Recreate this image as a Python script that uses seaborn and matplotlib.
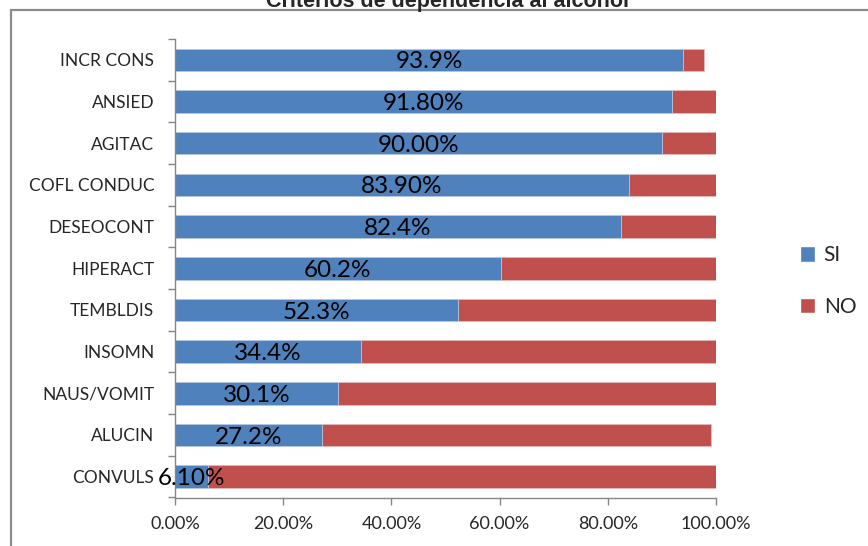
import matplotlib
matplotlib.use("Agg")
import matplotlib.pyplot as plt
from matplotlib.patches import Rectangle, Patch
import seaborn as sns
import pandas as pd

# Alcohol dependence criteria: share answering SI / NO (percent)
categories = ["INCR CONS", "ANSIED", "AGITAC", "COFL CONDUC", "DESEOCONT",
              "HIPERACT", "TEMBLDIS", "INSOMN", "NAUS/VOMIT", "ALUCIN", "CONVULS"]
si = [93.9, 91.8, 90.0, 83.9, 82.4, 60.2, 52.3, 34.4, 30.1, 27.2, 6.1]
no = [3.9, 8.2, 10.0, 16.1, 17.6, 39.8, 47.7, 65.6, 69.9, 71.9, 93.9]
label_decimals = [1, 2, 2, 2, 1, 1, 1, 1, 1, 1, 2]
x_ticks = [0, 20, 40, 60, 80, 100]

BLUE = "#4F81BD"
RED = "#C0504D"

sns.set_theme(style="white")
plt.rcParams["font.family"] = ["Lato", "DejaVu Sans"]

df = pd.DataFrame({"criterio": categories, "si": si, "no": no})
df["total"] = df["si"] + df["no"]

W, H = 868, 546
fig = plt.figure(figsize=(W / 100, H / 100), dpi=100)
ax = fig.add_axes([175 / W, 1 - 497.5 / H, (716 - 175) / W, (497.5 - 39) / H])

# stacked horizontal bars: total (NO on top of SI) then SI over it
sns.barplot(data=df, y="criterio", x="total", color=RED, saturation=1,
            width=0.54, orient="h", ax=ax, edgecolor="#e8b9b8", linewidth=0.6)
sns.barplot(data=df, y="criterio", x="si", color=BLUE, saturation=1,
            width=0.54, orient="h", ax=ax, edgecolor="#b9cde6", linewidth=0.6)

for i, (v, d) in enumerate(zip(si, label_decimals)):
    ax.text(v / 2, i + 0.05, f"{v:.{d}f}%", ha="center", va="center",
            fontsize=17.5, color="black")

ax.set_xlim(0, 100)
ax.set_ylim(len(categories) - 0.5, -0.5)
ax.set_xticks(x_ticks)
ax.set_xticklabels([f"{t:.2f}%" for t in x_ticks], fontsize=13)
ax.set_yticks(range(len(categories)))
ax.set_yticklabels(categories, fontsize=12.5)
ax.set_yticks([i - 0.5 for i in range(len(categories) + 1)], minor=True)
ax.tick_params(axis="y", which="major", length=0, pad=15)
ax.tick_params(axis="y", which="minor", length=5, width=1, color="#868686", left=True)
ax.tick_params(axis="x", which="major", length=5, width=1, color="#868686",
               bottom=True, pad=8)
ax.set_xlabel("")
ax.set_ylabel("")
ax.grid(False)
for side in ["top", "right"]:
    ax.spines[side].set_visible(False)
for side in ["left", "bottom"]:
    ax.spines[side].set_color("#868686")
    ax.spines[side].set_linewidth(1)

# chart frame
fig.patches.append(Rectangle((11 / W, -0.1), 1.2, 1 - 10 / H + 0.1,
                             transform=fig.transFigure, fill=False,
                             edgecolor="#8c8c8c", linewidth=1.6, clip_on=False))

fig.text(447 / W, 1 - 7.5 / H, "Criterios de dependencia al alcohol",
         ha="center", va="baseline", fontsize=15.5, fontweight="bold",
         family=["Liberation Sans", "DejaVu Sans"])

handles = [Patch(facecolor=BLUE), Patch(facecolor=RED)]
fig.legend(handles, ["SI", "NO"], loc="center left",
           bbox_to_anchor=(781 / W, 1 - 281 / H), frameon=False,
           handlelength=0.75, handleheight=0.75, handletextpad=0.4,
           labelspacing=1.5, fontsize=15)

fig.savefig("out.png", dpi=100)
